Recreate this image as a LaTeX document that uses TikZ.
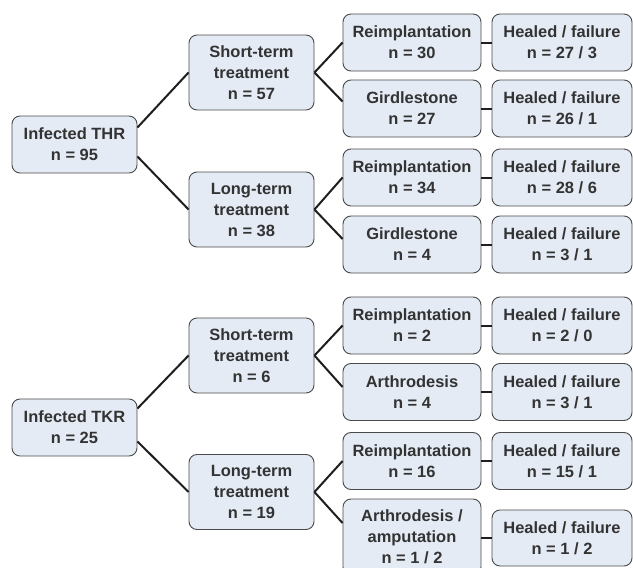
\documentclass[tikz,border=0pt]{standalone}
\usepackage{fontspec}
\setmainfont{Liberation Sans}
\newfontfamily\boxfont{Liberation Sans Bold}[FakeStretch=1.01]
\usetikzlibrary{calc}
\definecolor{boxfill}{HTML}{E4EBF5}
\definecolor{boxline}{HTML}{4A4A4A}
\definecolor{txt}{HTML}{333333}
\definecolor{conn}{HTML}{1E1E1E}
\begin{document}
\begin{tikzpicture}[x=1pt,y=1pt,
  box/.style={draw=boxline, line width=0.9pt, fill=boxfill, rounded corners=8pt,
    inner sep=0pt, align=center, text=txt,
    font=\boxfont\fontsize{16.3}{21}\selectfont},
  wide/.style={box, minimum width=125pt},
  twoline/.style={minimum height=57pt},
  threeline/.style={minimum height=75pt},
  mid/.style={box, minimum width=138pt},
  res/.style={box, minimum width=140pt},
  link/.style={draw=conn, line width=2pt}]
\useasboundingbox (0,0) rectangle (633,-568);
\clip (0,0) rectangle (633,-568);
% ---------- THR ----------
\node[wide, twoline]   (thr) at (74.5,-144.5) {Infected THR\\n = 95};
\node[wide, threeline] (st1) at (251.5,-72.5) {Short-term\\treatment\\n = 57};
\node[wide, threeline] (lt1) at (251.5,-209.5) {Long-term\\treatment\\n = 38};
\node[mid, twoline] (r1) at (412,-42.5)  {Reimplantation\\n = 30};
\node[mid, twoline] (g1) at (412,-108.5) {Girdlestone\\n = 27};
\node[mid, twoline] (r2) at (412,-177.5) {Reimplantation\\n = 34};
\node[mid, twoline] (g2) at (412,-244.5) {Girdlestone\\n = 4};
\node[res, twoline] (h1) at (562,-42.5)  {Healed / failure\\n = 27 / 3};
\node[res, twoline] (h2) at (562,-108.5) {Healed / failure\\n = 26 / 1};
\node[res, twoline] (h3) at (562,-177.5) {Healed / failure\\n = 28 / 6};
\node[res, twoline] (h4) at (562,-244.5) {Healed / failure\\n = 3 / 1};
% ---------- TKR ----------
\node[wide, twoline]   (tkr) at (74.5,-427.5) {Infected TKR\\n = 25};
\node[wide, threeline] (st2) at (251.5,-355.5) {Short-term\\treatment\\n = 6};
\node[wide, threeline] (lt2) at (251.5,-492) {Long-term\\treatment\\n = 19};
\node[mid, twoline] (r3) at (412,-325.5) {Reimplantation\\n = 2};
\node[mid, twoline] (a1) at (412,-392)   {Arthrodesis\\n = 4};
\node[mid, twoline] (r4) at (412,-461)   {Reimplantation\\n = 16};
\node[mid, threeline, minimum height=76pt] (a2) at (412,-537) {Arthrodesis /\\amputation\\n = 1 / 2};
\node[res, twoline] (h5) at (562,-325.5) {Healed / failure\\n = 2 / 0};
\node[res, twoline] (h6) at (562,-392)   {Healed / failure\\n = 3 / 1};
\node[res, twoline] (h7) at (562,-461)   {Healed / failure\\n = 15 / 1};
\node[res, minimum height=56pt] (h8) at (562,-538) {Healed / failure\\n = 1 / 2};
% ---------- connectors THR ----------
\draw[link] ([yshift=17pt]thr.east) -- (st1.west);
\draw[link] ([yshift=-12pt]thr.east) -- (lt1.west);
\draw[link] (st1.east) -- (r1.west);
\draw[link] (st1.east) -- ([yshift=7pt]g1.west);
\draw[link] (lt1.east) -- (r2.west);
\draw[link] (lt1.east) -- ([yshift=5.5pt]g2.west);
\draw[link] (r1.east) -- (h1.west);
\draw[link] (g1.east) -- (h2.west);
\draw[link] (r2.east) -- (h3.west);
\draw[link] (g2.east) -- (h4.west);
% ---------- connectors TKR ----------
\draw[link] ([yshift=19pt]tkr.east) -- (st2.west);
\draw[link] ([yshift=-14pt]tkr.east) -- (lt2.west);
\draw[link] (st2.east) -- (r3.west);
\draw[link] (st2.east) -- ([yshift=5pt]a1.west);
\draw[link] (lt2.east) -- (r4.west);
\draw[link] (lt2.east) -- ([yshift=14pt]a2.west);
\draw[link] (r3.east) -- (h5.west);
\draw[link] (a1.east) -- (h6.west);
\draw[link] (r4.east) -- (h7.west);
\draw[link] (h8.west -| a2.east) -- (h8.west);
\end{tikzpicture}
\end{document}
